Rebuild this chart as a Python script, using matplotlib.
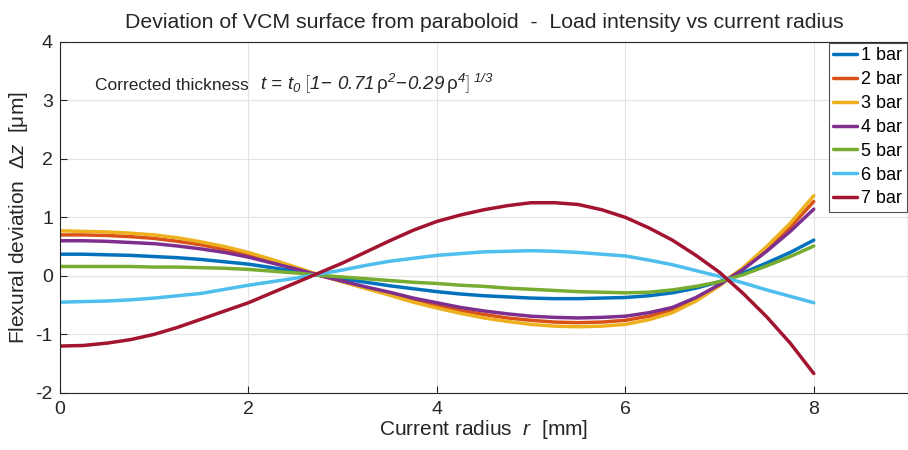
import matplotlib
matplotlib.use("Agg")
import matplotlib.pyplot as plt

plt.rcParams["font.family"] = ["Liberation Sans", "DejaVu Sans"]
plt.rcParams["axes.unicode_minus"] = False
plt.rcParams["mathtext.fontset"] = "custom"
plt.rcParams["mathtext.rm"] = "Liberation Sans"
plt.rcParams["mathtext.it"] = "Liberation Sans:italic"
plt.rcParams["mathtext.sf"] = "Liberation Sans:italic"
plt.rcParams["mathtext.bf"] = "Liberation Sans:bold"

r = [0, 0.25, 0.5, 0.75, 1, 1.25, 1.5, 1.75, 2, 2.25, 2.5, 2.75, 3, 3.25, 3.5, 3.75,
     4, 4.25, 4.5, 4.75, 5, 5.25, 5.5, 5.75, 6, 6.25, 6.5, 6.75, 7, 7.25, 7.5, 7.75, 8]
bar1 = [0.37, 0.37, 0.36, 0.35, 0.33, 0.31, 0.28, 0.24, 0.20, 0.14, 0.08, 0.01, -0.05, -0.11, -0.17, -0.22,
        -0.27, -0.31, -0.34, -0.36, -0.38, -0.39, -0.39, -0.38, -0.37, -0.34, -0.29, -0.21, -0.10, 0.05, 0.22, 0.40, 0.61]
bar2 = [0.70, 0.70, 0.69, 0.67, 0.64, 0.59, 0.53, 0.45, 0.36, 0.25, 0.13, 0.01, -0.10, -0.21, -0.31, -0.42,
        -0.51, -0.59, -0.66, -0.72, -0.76, -0.79, -0.80, -0.79, -0.76, -0.69, -0.58, -0.39, -0.15, 0.13, 0.46, 0.83, 1.27]
bar3 = [0.77, 0.76, 0.75, 0.73, 0.70, 0.65, 0.58, 0.50, 0.40, 0.28, 0.15, 0.02, -0.10, -0.22, -0.33, -0.45,
        -0.55, -0.64, -0.72, -0.78, -0.83, -0.86, -0.87, -0.86, -0.83, -0.75, -0.63, -0.43, -0.17, 0.14, 0.50, 0.90, 1.37]
bar4 = [0.60, 0.60, 0.59, 0.57, 0.55, 0.51, 0.46, 0.40, 0.32, 0.22, 0.12, 0.01, -0.09, -0.19, -0.28, -0.38,
        -0.46, -0.54, -0.60, -0.65, -0.69, -0.71, -0.72, -0.71, -0.69, -0.63, -0.54, -0.37, -0.15, 0.11, 0.42, 0.76, 1.14]
bar5 = [0.16, 0.16, 0.16, 0.16, 0.15, 0.15, 0.14, 0.13, 0.11, 0.08, 0.05, 0.01, -0.02, -0.05, -0.08, -0.11,
        -0.13, -0.16, -0.18, -0.21, -0.23, -0.25, -0.27, -0.28, -0.29, -0.28, -0.24, -0.18, -0.10, 0.02, 0.17, 0.33, 0.51]
bar6 = [-0.45, -0.44, -0.43, -0.41, -0.38, -0.34, -0.30, -0.23, -0.16, -0.10, -0.04, 0.03, 0.10, 0.18, 0.25, 0.30,
        0.35, 0.38, 0.41, 0.42, 0.43, 0.42, 0.40, 0.37, 0.34, 0.27, 0.19, 0.09, -0.01, -0.12, -0.24, -0.35, -0.46]
bar7 = [-1.20, -1.19, -1.15, -1.09, -1.00, -0.88, -0.74, -0.60, -0.46, -0.29, -0.12, 0.05, 0.22, 0.41, 0.60, 0.78,
        0.93, 1.04, 1.13, 1.20, 1.25, 1.25, 1.22, 1.13, 1.00, 0.82, 0.61, 0.35, 0.06, -0.30, -0.70, -1.15, -1.67]

labels = ["1 bar", "2 bar", "3 bar", "4 bar", "5 bar", "6 bar", "7 bar"]
colors = ["#0072BD", "#D95319", "#EDB120", "#7E2F8E", "#77AC30", "#4DBEEE", "#A2142F"]
series = [bar1, bar2, bar3, bar4, bar5, bar6, bar7]

xticks = [0, 2, 4, 6, 8]
yticks = [-2, -1, 0, 1, 2, 3, 4]

fig = plt.figure(figsize=(9.08, 4.5), dpi=100)
ax = fig.add_axes([0.066, 0.127, 0.934, 0.78])

for y, lab, c in zip(series, labels, colors):
    ax.plot(r, y, color=c, lw=2.5, label=lab, solid_capstyle="round")

ax.set_xlim(0, 9)
ax.set_ylim(-2, 4)
ax.set_xticks(xticks)
ax.set_yticks(yticks)
ax.grid(True, color="#e3e3e3", lw=0.8)
ax.tick_params(direction="in", labelsize=14, colors="#262626", length=5)
ax.tick_params(axis="x", pad=6)
ax.tick_params(axis="y", pad=5)
for s in ax.spines.values():
    s.set_color("#262626")
    s.set_linewidth(0.8)

ax.set_xlabel(r"Current radius  $r$  [mm]", fontsize=15, labelpad=0, color="#262626")
ax.set_ylabel(r"Flexural deviation  $\Delta z$  [μm]", fontsize=15, labelpad=4, color="#262626")
ax.set_title("Deviation of VCM surface from paraboloid  -  Load intensity vs current radius",
             fontsize=15.3, pad=10, color="#262626", x=0.5)

ax.text(0.37, 3.18, "Corrected thickness", fontsize=12.5, color="#262626")
ax.text(2.12, 3.18,
        r"$t\,\mathsf{=}\,t_{\mathsf{0}}\,\left[\mathsf{1}\!-\,\mathsf{0.71}\,\mathrm{\rho}^{\mathsf{2}}\!-\!\mathsf{0.29}\,\mathrm{\rho}^{\mathsf{4}}\right]^{\,\mathsf{1/3}}$",
        fontsize=13.5, color="#262626")

leg = ax.legend(loc="upper right", fontsize=13, frameon=True, fancybox=False,
                edgecolor="#262626", handlelength=1.3, handletextpad=0.25,
                borderpad=0.25, labelspacing=0.38, borderaxespad=0.05)
leg.get_frame().set_linewidth(0.8)

fig.savefig("out.png", dpi=100)
